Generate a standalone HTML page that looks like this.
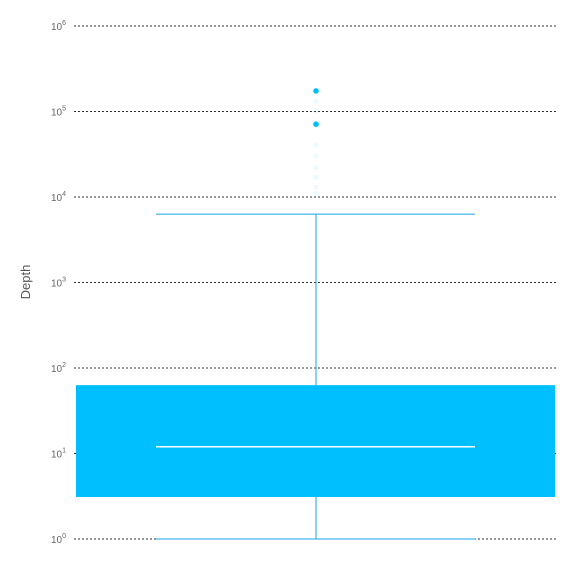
<!DOCTYPE html>
<html><head><meta charset="utf-8"><style>
body{margin:0;background:#fff}
svg{display:block;font-family:"Liberation Sans",sans-serif}
</style></head><body>
<svg id="c" width="576" height="576">
<text x="30" y="282" transform="rotate(-90 30 282)" text-anchor="middle" font-size="13" fill="#555">Depth</text>
</svg>
<script>
const tickExps=[0,1,2,3,4,5,6];
const boxStats=[1,3.1,12,63,6300]; // min,q1,median,q3,max
const outliersSolid=[174000,71000];
const outliersFaint=[132000,100000,40500,30000,22000,17000,13000,11000];
const svg=document.getElementById('c');
const NS='http://www.w3.org/2000/svg';
function y(v){return 539-(Math.log10(v))*85.5;}
function mk(t,a){const e=document.createElementNS(NS,t);for(const k in a)e.setAttribute(k,a[k]);svg.appendChild(e);return e;}
tickExps.forEach(p=>{
 const yy=y(Math.pow(10,p));
 const l=mk('line',{x1:74,x2:556,y1:yy,y2:yy,stroke:'#333','stroke-dasharray':'2,2','stroke-width':1});
 
 
 const t=mk('text',{x:66,y:yy+4,'text-anchor':'end','font-size':10,fill:'#666'});
 
 
 t.textContent='10';
 const s=document.createElementNS(NS,'tspan');s.setAttribute('font-size',7);s.setAttribute('dy',-5);s.textContent=p;t.appendChild(s);
});
const [mn,q1,md,q3,mx]=boxStats, cx=316, col='#00bfff', lcol='#1aa3e6';
const wl=mk('line',{x1:cx,x2:cx,y1:y(mx),y2:y(mn),stroke:lcol,'stroke-width':1});


[mx,mn].forEach(v=>{const c=mk('line',{x1:156,x2:475,y1:y(v),y2:y(v),stroke:lcol,'stroke-width':1});
 
 });
const b=mk('rect',{x:76,width:479,y:y(q3),height:y(q1)-y(q3),fill:col});


const m=mk('line',{x1:156,x2:475,y1:y(md),y2:y(md),stroke:'#fff','stroke-width':1.5});


outliersFaint.forEach(v=>{const c=mk('circle',{cx:cx,cy:y(v),r:2.5,fill:col,opacity:0.08});
 
 });
outliersSolid.forEach(v=>{const c=mk('circle',{cx:cx,cy:y(v),r:2.8,fill:col});
 
 });
</script>
</body></html>
